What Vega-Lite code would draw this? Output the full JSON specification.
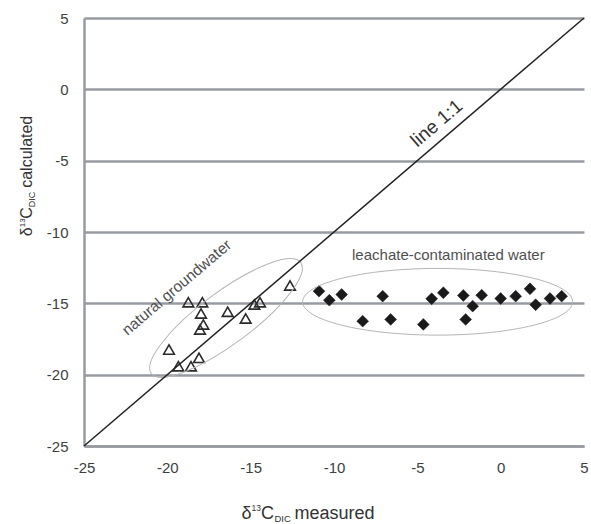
{
  "$schema": "https://vega.github.io/schema/vega-lite/v6.json",
  "width": 500,
  "height": 428,
  "autosize": {"type": "none"},
  "padding": {"left": 84, "top": 18, "right": 7, "bottom": 78},
  "background": "white",
  "config": {
    "view": {"stroke": null},
    "font": "Liberation Sans",
    "text": {"font": "Liberation Sans"}
  },
  "datasets": {
    "note": [{"kind": "annotation"}],
    "samples": [
      {"measured": -18.74, "calculated": -14.92, "group": "natural groundwater"},
      {"measured": -17.90, "calculated": -14.92, "group": "natural groundwater"},
      {"measured": -17.98, "calculated": -15.71, "group": "natural groundwater"},
      {"measured": -16.38, "calculated": -15.59, "group": "natural groundwater"},
      {"measured": -15.30, "calculated": -16.06, "group": "natural groundwater"},
      {"measured": -14.78, "calculated": -15.08, "group": "natural groundwater"},
      {"measured": -14.44, "calculated": -14.92, "group": "natural groundwater"},
      {"measured": -17.84, "calculated": -16.48, "group": "natural groundwater"},
      {"measured": -18.04, "calculated": -16.83, "group": "natural groundwater"},
      {"measured": -19.90, "calculated": -18.24, "group": "natural groundwater"},
      {"measured": -19.34, "calculated": -19.41, "group": "natural groundwater"},
      {"measured": -18.58, "calculated": -19.41, "group": "natural groundwater"},
      {"measured": -18.10, "calculated": -18.82, "group": "natural groundwater"},
      {"measured": -12.64, "calculated": -13.75, "group": "natural groundwater"},
      {"measured": -10.90, "calculated": -14.15, "group": "leachate-contaminated water"},
      {"measured": -10.28, "calculated": -14.78, "group": "leachate-contaminated water"},
      {"measured": -9.54, "calculated": -14.38, "group": "leachate-contaminated water"},
      {"measured": -8.28, "calculated": -16.25, "group": "leachate-contaminated water"},
      {"measured": -7.08, "calculated": -14.50, "group": "leachate-contaminated water"},
      {"measured": -6.60, "calculated": -16.13, "group": "leachate-contaminated water"},
      {"measured": -4.64, "calculated": -16.48, "group": "leachate-contaminated water"},
      {"measured": -4.14, "calculated": -14.68, "group": "leachate-contaminated water"},
      {"measured": -3.44, "calculated": -14.26, "group": "leachate-contaminated water"},
      {"measured": -2.24, "calculated": -14.45, "group": "leachate-contaminated water"},
      {"measured": -2.10, "calculated": -16.13, "group": "leachate-contaminated water"},
      {"measured": -1.68, "calculated": -15.20, "group": "leachate-contaminated water"},
      {"measured": -1.14, "calculated": -14.43, "group": "leachate-contaminated water"},
      {"measured": 0.00, "calculated": -14.66, "group": "leachate-contaminated water"},
      {"measured": 0.90, "calculated": -14.50, "group": "leachate-contaminated water"},
      {"measured": 1.76, "calculated": -13.98, "group": "leachate-contaminated water"},
      {"measured": 2.10, "calculated": -15.10, "group": "leachate-contaminated water"},
      {"measured": 2.96, "calculated": -14.66, "group": "leachate-contaminated water"},
      {"measured": 3.66, "calculated": -14.50, "group": "leachate-contaminated water"}
    ]
  },
  "layer": [
    {
      "data": {"name": "samples"},
      "transform": [{"filter": "datum.group === 'natural groundwater'"}],
      "mark": {"type": "point", "shape": "triangle-up", "filled": false, "stroke": "#2a2a2a", "strokeWidth": 1.6, "size": 115, "opacity": 1, "zindex": 3},
      "encoding": {
        "x": {"field": "measured", "type": "quantitative", "scale": {"domain": [-25, 5], "nice": false, "zero": false},
          "axis": {"values": [-25, -20, -15, -10, -5, 0, 5], "grid": false, "ticks": false, "tickSize": 0, "domainColor": "#979ba1", "domainWidth": 2.5, "labelFont": "Liberation Sans", "labelFontSize": 15, "labelColor": "#404040", "labelPadding": 14, "labelFlush": false, "labelOverlap": false, "labelExpr": "datum.value + ''", "title": null}},
        "y": {"field": "calculated", "type": "quantitative", "scale": {"domain": [-25, 5], "nice": false, "zero": false},
          "axis": {"values": [-25, -20, -15, -10, -5, 0, 5], "grid": true, "gridColor": "#979ba1", "gridWidth": 2.5, "gridOpacity": 1, "ticks": false, "tickSize": 0, "domainColor": "#979ba1", "domainWidth": 2.5, "labelFont": "Liberation Sans", "labelFontSize": 15, "labelColor": "#404040", "labelPadding": 16, "labelFlush": false, "labelOverlap": false, "labelExpr": "datum.value + ''", "title": null}}
      }
    },
    {
      "data": {"name": "samples"},
      "transform": [{"filter": "datum.group === 'leachate-contaminated water'"}],
      "mark": {"type": "point", "shape": "diamond", "filled": true, "fill": "#1a1a1a", "stroke": "#1a1a1a", "strokeWidth": 0.5, "size": 140, "opacity": 1, "zindex": 3},
      "encoding": {
        "x": {"field": "measured", "type": "quantitative", "title": null},
        "y": {"field": "calculated", "type": "quantitative", "title": null}
      }
    },
    {
      "data": {"name": "note"},
      "mark": {"type": "point", "shape": "M-1,0A1,0.28,0,1,1,1,0A1,0.28,0,1,1,-1,0Z", "filled": false, "stroke": "#b5b5b5", "strokeWidth": 1, "size": 34596, "angle": 323.4, "opacity": 1, "zindex": 1},
      "encoding": {
        "x": {"datum": -16.48, "type": "quantitative", "title": null},
        "y": {"datum": -16.03, "type": "quantitative", "title": null}
      }
    },
    {
      "data": {"name": "note"},
      "mark": {"type": "point", "shape": "M-1,0A1,0.247,0,1,1,1,0A1,0.247,0,1,1,-1,0Z", "filled": false, "stroke": "#b5b5b5", "strokeWidth": 1, "size": 72900, "opacity": 1, "zindex": 1},
      "encoding": {
        "x": {"datum": -3.78, "type": "quantitative", "title": null},
        "y": {"datum": -14.89, "type": "quantitative", "title": null}
      }
    },
    {
      "data": {"name": "note"},
      "mark": {"type": "rule", "color": "#222222", "strokeWidth": 1.5, "zindex": 2},
      "encoding": {
        "x": {"datum": -25, "type": "quantitative", "title": null},
        "y": {"datum": -25, "type": "quantitative", "title": null},
        "x2": {"datum": 5},
        "y2": {"datum": 5}
      }
    },
    {
      "data": {"name": "note"},
      "mark": {"type": "text", "text": "line 1:1", "fontSize": 19, "color": "#333333", "align": "center", "baseline": "middle", "angle": 319.4},
      "encoding": {
        "x": {"datum": -3.84, "type": "quantitative", "title": null},
        "y": {"datum": -2.38, "type": "quantitative", "title": null}
      }
    },
    {
      "data": {"name": "note"},
      "mark": {"type": "text", "text": "natural groundwater", "fontSize": 15.5, "color": "#505050", "align": "center", "baseline": "middle", "angle": 319.6},
      "encoding": {
        "x": {"datum": -19.44, "type": "quantitative", "title": null},
        "y": {"datum": -13.89, "type": "quantitative", "title": null}
      }
    },
    {
      "data": {"name": "note"},
      "mark": {"type": "text", "text": "leachate-contaminated water", "fontSize": 15, "color": "#505050", "align": "center", "baseline": "middle"},
      "encoding": {
        "x": {"datum": -3.14, "type": "quantitative", "title": null},
        "y": {"datum": -11.61, "type": "quantitative", "title": null}
      }
    },
    {
      "data": {"name": "note"},
      "layer": [
        {"mark": {"type": "text", "text": "δ", "fontSize": 18, "dx": 0, "color": "#333333", "align": "left", "baseline": "alphabetic"}},
        {"mark": {"type": "text", "text": "13", "fontSize": 8.5, "dx": 10, "dy": -8, "color": "#333333", "align": "left", "baseline": "alphabetic"}},
        {"mark": {"type": "text", "text": "C", "fontSize": 18, "dx": 19.5, "color": "#333333", "align": "left", "baseline": "alphabetic"}},
        {"mark": {"type": "text", "text": "DIC", "fontSize": 9.5, "dx": 33, "dy": 3, "color": "#333333", "align": "left", "baseline": "alphabetic"}},
        {"mark": {"type": "text", "text": "measured", "fontSize": 18, "dx": 53, "color": "#333333", "align": "left", "baseline": "alphabetic"}}
      ],
      "encoding": {
        "x": {"datum": -15.55, "type": "quantitative", "title": null},
        "y": {"datum": -30.15, "type": "quantitative", "title": null}
      }
    },
    {
      "data": {"name": "note"},
      "layer": [
        {"mark": {"type": "text", "text": "δ", "fontSize": 16, "dx": 0, "angle": 270, "color": "#333333", "align": "left", "baseline": "alphabetic"}},
        {"mark": {"type": "text", "text": "13", "fontSize": 8, "dx": 9, "dy": -7, "angle": 270, "color": "#333333", "align": "left", "baseline": "alphabetic"}},
        {"mark": {"type": "text", "text": "C", "fontSize": 16, "dx": 17.5, "angle": 270, "color": "#333333", "align": "left", "baseline": "alphabetic"}},
        {"mark": {"type": "text", "text": "DIC", "fontSize": 9, "dx": 29, "dy": 3, "angle": 270, "color": "#333333", "align": "left", "baseline": "alphabetic"}},
        {"mark": {"type": "text", "text": "calculated", "fontSize": 16, "dx": 48.5, "angle": 270, "color": "#333333", "align": "left", "baseline": "alphabetic"}}
      ],
      "encoding": {
        "x": {"datum": -28.12, "type": "quantitative", "title": null},
        "y": {"datum": -10.3, "type": "quantitative", "title": null}
      }
    }
  ]
}
